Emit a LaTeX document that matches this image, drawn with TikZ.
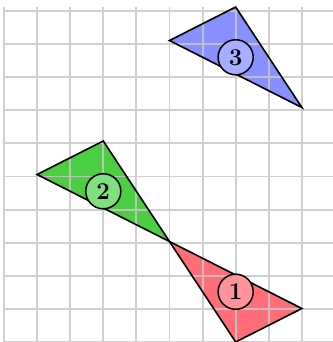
\documentclass[tikz,border=0pt]{standalone}
\definecolor{trired}{RGB}{255,110,120}
\definecolor{trigreen}{RGB}{76,206,66}
\definecolor{triblue}{RGB}{136,144,255}
\definecolor{lblred}{RGB}{255,146,155}
\definecolor{lblgreen}{RGB}{128,224,128}
\definecolor{lblblue}{RGB}{168,174,255}
\definecolor{gridgray}{RGB}{200,200,200}
\begin{document}
\begin{tikzpicture}[y=1.012cm,
    num/.style={circle, draw, line width=1.3pt, minimum size=1.06cm, inner sep=0pt, font=\huge\bfseries}]
    \clip (-0.12,0) rectangle (9.94,10.21);

    \fill[trired] (5,3) -- (9,1) -- (7,0) -- cycle;
    \fill[trigreen] (5,3) -- (1,5) -- (3,6) -- cycle;
    \fill[triblue] (5,9) -- (7,10) -- (9,7) -- cycle;

    \draw[gridgray, opacity=0.85, line width=1.6pt] (0,0) grid (10,10);

    \draw[line width=1.4pt, line join=miter] (5,3) -- (9,1) -- (7,0) -- cycle;
    \draw[line width=1.4pt, line join=miter] (5,3) -- (1,5) -- (3,6) -- cycle;
    \draw[line width=1.4pt, line join=miter] (5,9) -- (7,10) -- (9,7) -- cycle;

    \node[num, fill=lblred] (n1) at (7,1.5) {1};
    \node[num, fill=lblgreen] (n2) at (3,4.5) {2};
    \node[num, fill=lblblue] (n3) at (7,8.5) {3};
  \end{tikzpicture}
\end{document}
